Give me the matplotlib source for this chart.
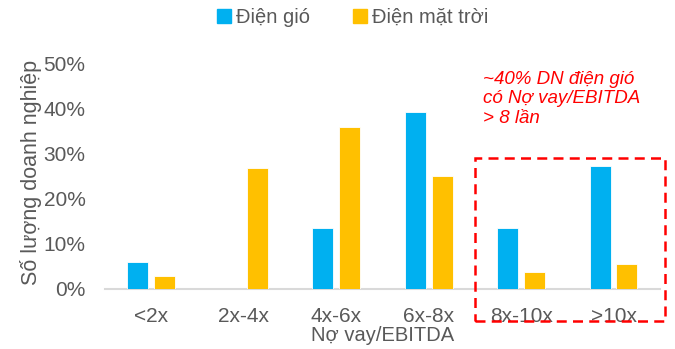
import matplotlib
matplotlib.use("Agg")
import matplotlib.pyplot as plt
import numpy as np
from matplotlib.patches import Rectangle
from matplotlib.lines import Line2D

plt.rcParams['font.family'] = ['Liberation Sans', 'DejaVu Sans']

categories = ["<2x", "2x-4x", "4x-6x", "6x-8x", "8x-10x", ">10x"]
wind = [0.061, 0.0, 0.136, 0.394, 0.136, 0.273]
solar = [0.028, 0.268, 0.360, 0.250, 0.037, 0.056]
yticks = [0.0, 0.1, 0.2, 0.3, 0.4, 0.5]
ytick_labels = ["0%", "10%", "20%", "30%", "40%", "50%"]

BLUE = "#00B0F0"
GOLD = "#FFC000"
GRAY = "#595959"
RED = "#FF0000"

fig = plt.figure(figsize=(6.75, 3.49), dpi=100)
ax = fig.add_axes([0.1556, 0.172, 0.822, 0.645])

x = np.arange(len(categories))
w = 0.227
off = 0.144
ax.bar(x - off, wind, w, color=BLUE, edgecolor="white", linewidth=0.6, zorder=3)
ax.bar(x + off, solar, w, color=GOLD, edgecolor="white", linewidth=0.6, zorder=3)

ax.set_xlim(-0.5, len(categories) - 0.5)
ax.set_ylim(0, 0.5)
ax.set_yticks(yticks)
ax.set_yticklabels(ytick_labels)
ax.set_xticks(x)
ax.set_xticklabels(categories)
ax.tick_params(axis='both', length=0, labelsize=15, colors=GRAY)
ax.tick_params(axis='x', pad=13)
ax.tick_params(axis='y', pad=14)

for s in ['top', 'right', 'left']:
    ax.spines[s].set_visible(False)
ax.spines['bottom'].set_color("#D9D9D9")
ax.spines['bottom'].set_linewidth(1.5)

ax.set_xlabel("Nợ vay/EBITDA", fontsize=14.5, color=GRAY, labelpad=0)
fig.text(0.046, 0.505, "Số lượng doanh nghiệp", rotation=90, fontsize=15.5,
         color=GRAY, ha='center', va='center')

handles = [Line2D([], [], marker='s', linestyle='', color=BLUE, markersize=10),
           Line2D([], [], marker='s', linestyle='', color=GOLD, markersize=10)]
fig.legend(handles, ["Điện gió", "Điện mặt trời"], loc='center',
           bbox_to_anchor=(0.52, 0.95), ncol=2, frameon=False, fontsize=14.5,
           labelcolor=GRAY, handletextpad=0.1, columnspacing=2.0,
           handlelength=1.0)

# highlighted region for high-leverage buckets
rect = Rectangle((3.5, -0.071), 2.05, 0.362, fill=False, edgecolor=RED,
                 linewidth=1.8, linestyle=(0, (4, 2.5)), clip_on=False, zorder=4)
ax.add_patch(rect)

fig.text(0.716, 0.797, "~40% DN điện gió\ncó Nợ vay/EBITDA\n> 8 lần",
         fontsize=13.5, color=RED, style='italic', ha='left', va='top',
         linespacing=1.2)

fig.savefig("out.png", dpi=100)
